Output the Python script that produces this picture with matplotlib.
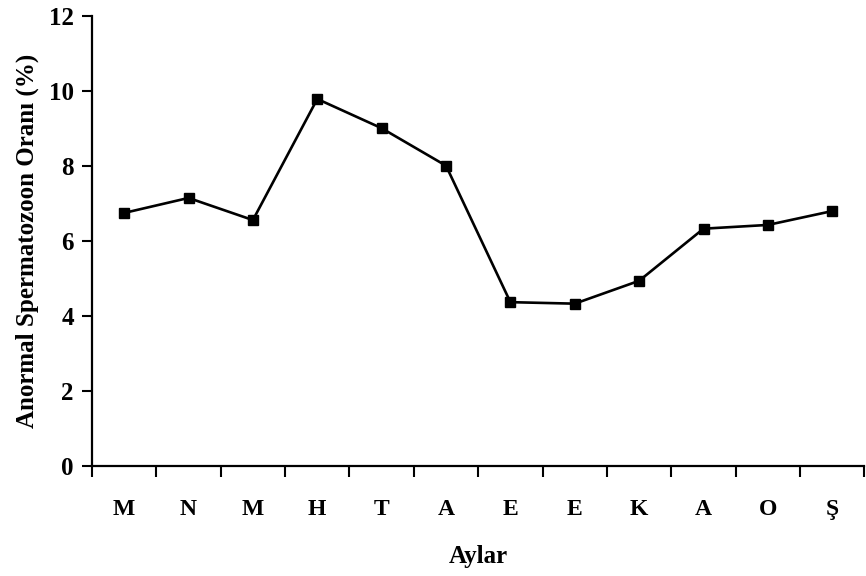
import matplotlib
matplotlib.use("Agg")
import matplotlib.pyplot as plt
import numpy as np

# Months (Turkish initials) and abnormal spermatozoa rate (%)
months = ["M", "N", "M", "H", "T", "A", "E", "E", "K", "A", "O", "Ş"]
abnormal_rate = [6.75, 7.15, 6.56, 9.79, 9.01, 8.01, 4.37, 4.33, 4.94, 6.33, 6.43, 6.80]
y_ticks = [0, 2, 4, 6, 8, 10, 12]

plt.rcParams["font.family"] = ["Liberation Serif", "DejaVu Serif"]
plt.rcParams["font.weight"] = "bold"

fig = plt.figure(figsize=(8.66, 5.76), dpi=100)
ax = fig.add_axes([0.1062, 0.191, 0.892, 0.781])

x = np.arange(len(months)) + 0.5
ax.plot(x, abnormal_rate, color="black", linewidth=1.9,
        marker="s", markersize=7.5, markerfacecolor="black", markeredgecolor="black")

ax.set_xlim(0, len(months))
ax.set_ylim(0, 12)

# category boundaries as major ticks, labels at centres via minor ticks
ax.set_xticks(np.arange(len(months) + 1))
ax.set_xticklabels([])
ax.set_xticks(x, minor=True)
ax.set_xticklabels(months, minor=True, fontsize=17, fontweight="bold")
ax.tick_params(axis="x", which="major", direction="out", length=8, width=1.5)
ax.tick_params(axis="x", which="minor", length=0, pad=24)

ax.set_yticks(y_ticks)
ax.set_yticklabels([str(v) for v in y_ticks], fontsize=18, fontweight="bold")
ax.tick_params(axis="y", direction="out", length=7, width=1.5, pad=6)

for side in ["top", "right"]:
    ax.spines[side].set_visible(False)
for side in ["left", "bottom"]:
    ax.spines[side].set_linewidth(1.6)

ax.set_xlabel("Aylar", fontsize=18, fontweight="bold", labelpad=18)
ax.set_ylabel("Anormal Spermatozoon Oranı (%)", fontsize=18, fontweight="bold", labelpad=7)

fig.savefig("out.png", dpi=100)
